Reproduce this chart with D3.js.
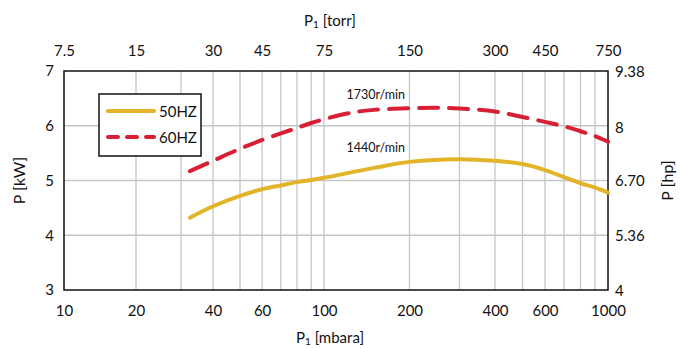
<!DOCTYPE html>
<html>
<head>
<meta charset="utf-8">
<script src="https://cdn.jsdelivr.net/npm/d3@7/dist/d3.min.js"></script>
<style>
  html, body { margin: 0; padding: 0; background: #fff; }
  svg { display: block; font-family: Lato, "Open Sans", sans-serif; }
</style>
</head>
<body>
<svg id="chart" width="680" height="348"></svg>
<script>
// Inlet pressure P1 [mbara] and shaft power [kW] for each supply frequency
const pressure50 = [32.5, 40, 50, 60, 70, 80, 90, 100, 150, 200, 300, 400, 500, 600, 700, 800, 900, 1000];
const power50    = [4.32, 4.53, 4.72, 4.84, 4.91, 4.97, 5.01, 5.05, 5.23, 5.34, 5.39, 5.36, 5.30, 5.19, 5.06, 4.95, 4.87, 4.78];

const pressure60 = [32.5, 40, 50, 60, 70, 80, 90, 100, 125, 150, 200, 250, 300, 400, 500, 600, 700, 800, 900, 1000];
const power60    = [5.17, 5.36, 5.58, 5.74, 5.86, 5.96, 6.05, 6.12, 6.24, 6.29, 6.32, 6.33, 6.315, 6.26, 6.16, 6.07, 5.99, 5.90, 5.81, 5.71];

const seriesNames = ["50HZ", "60HZ"];
const speedLabels = ["1440r/min", "1730r/min"];

// Axis ticks
const mbarTicks  = [10, 20, 40, 60, 100, 200, 400, 600, 1000];
const mbarGrid   = [20, 30, 40, 50, 60, 70, 80, 90, 100, 200, 300, 400, 500, 600, 700, 800, 900];
const torrTicks  = [7.5, 15, 30, 45, 75, 150, 300, 450, 750];
const kwTicks    = [3, 4, 5, 6, 7];
const hpTicks    = [4, 5.36, 6.70, 8, 9.38];
const hpLabels   = ["4", "5.36", "6.70", "8", "9.38"];

const TORR_PER_MBAR = 0.75;
const HP_PER_KW = 1.341;

const svg = d3.select("#chart");
const plotLeft = 64, plotRight = 608, plotTop = 71, plotBottom = 290;

// Piecewise logarithmic pressure axis
const xDomain = [10, 20, 40, 100, 1000];
const xRange  = [plotLeft, 136, 213, 324, plotRight];
const x = d3.scaleLog().domain(xDomain).range(xRange);
const xTorr = d3.scaleLog().domain(xDomain.map(d => d * TORR_PER_MBAR)).range(xRange);

const y = d3.scaleLinear().domain([3, 7]).range([plotBottom, plotTop]);
const yHp = d3.scaleLinear().domain([3 * HP_PER_KW, 7 * HP_PER_KW]).range([plotBottom, plotTop]);

const gridColor = "#c6c6c6";

// Grid
svg.append("g")
  .selectAll("line")
  .data(mbarGrid)
  .join("line")
  .attr("x1", d => x(d)).attr("x2", d => x(d))
  .attr("y1", plotTop).attr("y2", plotBottom)
  .attr("stroke", gridColor).attr("stroke-width", 1.3);

svg.append("g")
  .selectAll("line")
  .data(kwTicks.slice(1, -1))
  .join("line")
  .attr("x1", plotLeft).attr("x2", plotRight)
  .attr("y1", d => y(d)).attr("y2", d => y(d))
  .attr("stroke", gridColor).attr("stroke-width", 1.3);

// Axes (labels only, frame drawn separately)
function styleAxis(g) {
  g.select(".domain").remove();
  g.selectAll(".tick line").remove();
  g.selectAll(".tick text")
    .attr("font-family", "Lato, sans-serif")
    .attr("font-size", 15)
    .attr("fill", "#111");
}

svg.append("g")
  .attr("transform", `translate(0,${plotBottom})`)
  .call(d3.axisBottom(x).tickValues(mbarTicks).tickFormat(d3.format("d")).tickSize(0).tickPadding(15))
  .call(styleAxis);

svg.append("g")
  .attr("transform", `translate(0,${plotTop})`)
  .call(d3.axisTop(xTorr).tickValues(torrTicks).tickFormat(d => String(d)).tickSize(0).tickPadding(15))
  .call(styleAxis);

svg.append("g")
  .attr("transform", `translate(${plotLeft},0)`)
  .call(d3.axisLeft(y).tickValues(kwTicks).tickFormat(d3.format("d")).tickSize(0).tickPadding(10))
  .call(styleAxis);

svg.append("g")
  .attr("transform", `translate(${plotRight},0)`)
  .call(d3.axisRight(yHp).tickValues(hpTicks).tickFormat((d, i) => hpLabels[i]).tickSize(0).tickPadding(7))
  .call(styleAxis);

// Plot frame
svg.append("rect")
  .attr("x", plotLeft).attr("y", plotTop)
  .attr("width", plotRight - plotLeft).attr("height", plotBottom - plotTop)
  .attr("fill", "none").attr("stroke", "#111").attr("stroke-width", 1.5);

// Axis titles
function pTitle(sel, unit) {
  sel.append("tspan").text("P");
  sel.append("tspan").attr("font-size", 10).attr("dy", 2).text("1");
  sel.append("tspan").attr("dy", -2).text(" [" + unit + "]");
}
svg.append("text")
  .attr("x", 330).attr("y", 26)
  .attr("text-anchor", "middle").attr("font-size", 15).attr("fill", "#111")
  .call(pTitle, "torr");
svg.append("text")
  .attr("x", 330).attr("y", 343)
  .attr("text-anchor", "middle").attr("font-size", 15).attr("fill", "#111")
  .call(pTitle, "mbara");

svg.append("text")
  .attr("transform", `translate(25,${(plotTop + plotBottom) / 2}) rotate(-90)`)
  .attr("text-anchor", "middle").attr("font-size", 16).attr("fill", "#111")
  .text("P [kW]");
svg.append("text")
  .attr("transform", `translate(673,${(plotTop + plotBottom) / 2}) rotate(-90)`)
  .attr("text-anchor", "middle").attr("font-size", 16).attr("fill", "#111")
  .text("P [hp]");

// Curves
const yellow = "#e3b42a", red = "#d81f33";
const line = d3.line()
  .x(d => x(d[0]))
  .y(d => y(d[1]))
  .curve(d3.curveCatmullRom.alpha(0.5));

svg.append("path")
  .datum(d3.zip(pressure50, power50))
  .attr("d", line)
  .attr("fill", "none").attr("stroke", yellow)
  .attr("stroke-width", 4).attr("stroke-linecap", "round");

svg.append("path")
  .datum(d3.zip(pressure60, power60))
  .attr("d", line)
  .attr("fill", "none").attr("stroke", red)
  .attr("stroke-width", 4).attr("stroke-linecap", "round")
  .attr("stroke-dasharray", "19,11");

// Speed annotations
svg.append("text")
  .attr("x", x(120)).attr("y", y(5.52))
  .attr("font-size", 12.5).attr("fill", "#111")
  .text(speedLabels[0]);
svg.append("text")
  .attr("x", x(120)).attr("y", y(6.49))
  .attr("font-size", 12.5).attr("fill", "#111")
  .text(speedLabels[1]);

// Legend
const legend = svg.append("g").attr("transform", "translate(99,94)");
legend.append("rect")
  .attr("width", 102).attr("height", 62)
  .attr("fill", "#fff").attr("stroke", "#111").attr("stroke-width", 1.5);
const legendItems = [
  { name: seriesNames[0], color: yellow, dash: null, yy: 17 },
  { name: seriesNames[1], color: red, dash: "10,9", yy: 43 }
];
legendItems.forEach(it => {
  legend.append("line")
    .attr("x1", 9).attr("x2", 55).attr("y1", it.yy).attr("y2", it.yy)
    .attr("stroke", it.color).attr("stroke-width", 4)
    .attr("stroke-linecap", "round")
    .attr("stroke-dasharray", it.dash);
  legend.append("text")
    .attr("x", 60).attr("y", it.yy + 5.5)
    .attr("font-size", 15).attr("fill", "#111")
    .text(it.name);
});
</script>
</body>
</html>
